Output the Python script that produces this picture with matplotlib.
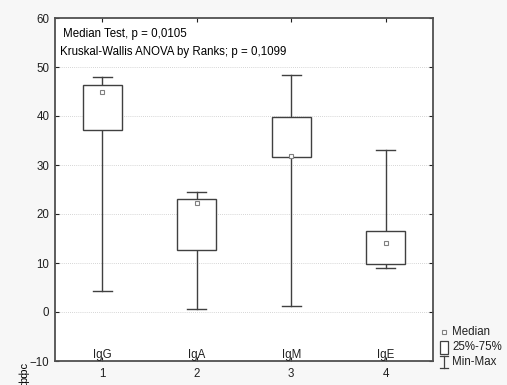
import matplotlib
matplotlib.use("Agg")
import matplotlib.pyplot as plt
from matplotlib.lines import Line2D
from matplotlib.patches import Rectangle

plt.rcParams['font.family'] = ['Liberation Sans', 'DejaVu Sans']

categories = ["IgG", "IgA", "IgM", "IgE"]
positions = [1, 2, 3, 4]
mins = [4.3, 0.6, 1.2, 9.0]
maxs = [48.0, 24.5, 48.3, 33.0]
q1 = [37.2, 12.6, 31.7, 9.7]
q3 = [46.3, 23.0, 39.7, 16.5]
medians = [44.8, 22.3, 31.8, 14.0]
legend_labels = ["Median", "25%-75%", "Min-Max"]

W, H = 507, 385
fig = plt.figure(figsize=(W/100, H/100), dpi=100)
fig.patch.set_facecolor('#f7f7f7')
ax = fig.add_axes([55/W, 1-361/H, (433-55)/W, (361-18)/H])
ax.set_facecolor('white')

fs = 8.3
lc = '#404040'
bw = 0.41
cw = 0.2
for x, lo, hi, a, b, m in zip(positions, mins, maxs, q1, q3, medians):
    ax.add_patch(Rectangle((x - bw/2, a), bw, b - a, facecolor='white', edgecolor=lc, lw=1.0, zorder=3))
    ax.plot([x, x], [lo, a], color=lc, lw=1.0, zorder=2)
    ax.plot([x, x], [b, hi], color=lc, lw=1.0, zorder=2)
    ax.plot([x - cw/2, x + cw/2], [lo, lo], color=lc, lw=1.0, zorder=2)
    ax.plot([x - cw/2, x + cw/2], [hi, hi], color=lc, lw=1.0, zorder=2)
    ax.plot([x], [m], marker='s', ms=3.5, mfc='white', mec='#808080', mew=0.8, zorder=4)

ax.set_xlim(0.5, 4.5)
ax.set_ylim(-10, 60)
ax.set_yticks(range(-10, 61, 10))
ax.set_xticks(positions)
ax.set_xticklabels([str(p) for p in positions])
for y in range(0, 60, 10):
    ax.axhline(y, color='#c8c8c8', lw=0.6, ls=(0, (1, 1.5)), zorder=1)

for s in ax.spines.values():
    s.set_color('#505050')
    s.set_linewidth(1.3)
ax.tick_params(axis='both', labelsize=fs, colors='#202020', length=3, direction='in',
               top=True, right=True, width=0.8, pad=5)
ax.tick_params(axis='y', pad=4)

for x, c in zip(positions, categories):
    ax.text(x, -8.8, c, ha='center', va='center', fontsize=fs, color='#202020')

ax.text(0.02, 0.953, "Median Test, p = 0,0105", transform=ax.transAxes, fontsize=fs, va='center', ha='left')
ax.text(0.012, 0.901, "Kruskal-Wallis ANOVA by Ranks; p = 0,1099", transform=ax.transAxes, fontsize=fs, va='center', ha='left')

# manual legend in figure pixel coords
def fx(px):
    return px / W
def fy(py):
    return 1 - py / H

hx = 444
fig.add_artist(Line2D([fx(hx)], [fy(332)], ls='none', marker='s', ms=3.5, mfc='white', mec='#808080', mew=0.8))
fig.add_artist(Rectangle((fx(440), fy(354)), 8/W, 13/H, facecolor='white', edgecolor=lc, lw=0.9))
fig.add_artist(Line2D([fx(hx), fx(hx)], [fy(356), fy(368)], color=lc, lw=0.9))
fig.add_artist(Line2D([fx(hx-4), fx(hx+4)], [fy(356), fy(356)], color=lc, lw=0.9))
fig.add_artist(Line2D([fx(hx-4), fx(hx+4)], [fy(368), fy(368)], color=lc, lw=0.9))
for lab, py in zip(legend_labels, [332, 347, 362]):
    fig.text(fx(452), fy(py), lab, fontsize=fs, va='center', ha='left', color='#202020')

fig.text(fx(24), fy(386), "ффс", rotation=90, fontsize=8, ha='center', va='bottom')

fig.savefig("out.png", dpi=100, facecolor=fig.get_facecolor())
